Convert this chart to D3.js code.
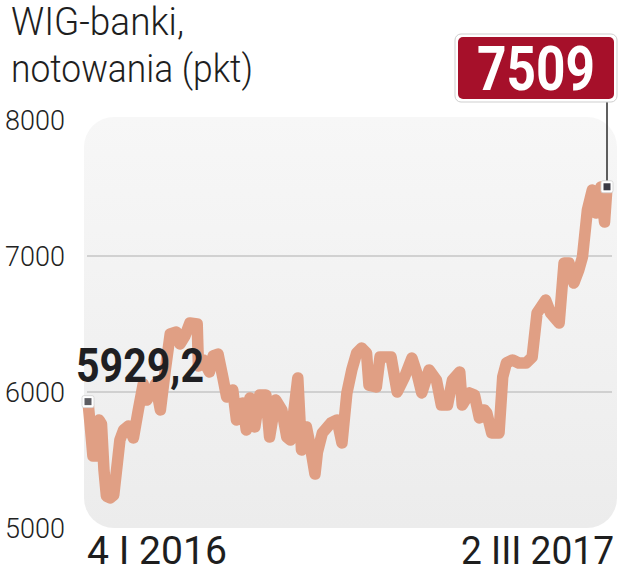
<!DOCTYPE html>
<html>
<head>
<meta charset="utf-8">
<script src="https://cdn.jsdelivr.net/npm/d3@7/dist/d3.min.js"></script>
<style>
  html, body { margin: 0; padding: 0; background: #ffffff; }
  svg { display: block; }
</style>
</head>
<body>
<svg id="chart" width="627" height="572"></svg>
<script>
// ---- Data ----
const titleLines = ["WIG-banki,", "notowania (pkt)"];
const yTicks = [5000, 6000, 7000, 8000];
const gridValues = [6000, 7000];
const xLabels = ["4 I 2016", "2 III 2017"];
const startLabel = "5929,2";
const endLabel = "7509";

const dates = [
  "2016-01-04","2016-01-06","2016-01-08","2016-01-11","2016-01-13","2016-01-15","2016-01-17","2016-01-19",
  "2016-01-22","2016-01-25","2016-01-28","2016-01-30","2016-02-02","2016-02-06","2016-02-10","2016-02-14",
  "2016-02-18","2016-02-21","2016-02-25","2016-02-28","2016-03-03","2016-03-07","2016-03-11","2016-03-16",
  "2016-03-19","2016-03-23","2016-03-27","2016-04-02","2016-04-03","2016-04-07","2016-04-12","2016-04-15",
  "2016-04-19","2016-04-23","2016-04-26","2016-05-01","2016-05-04","2016-05-09","2016-05-12","2016-05-15",
  "2016-05-19","2016-05-23","2016-05-28","2016-05-31","2016-06-05","2016-06-10","2016-06-14","2016-06-17",
  "2016-06-23","2016-06-26","2016-06-30","2016-07-04","2016-07-07","2016-07-09","2016-07-13","2016-07-20",
  "2016-07-25","2016-07-29","2016-08-02","2016-08-06","2016-08-10","2016-08-14","2016-08-18","2016-08-20",
  "2016-08-26","2016-08-29","2016-09-03","2016-09-07","2016-09-12","2016-09-18","2016-09-24","2016-09-28",
  "2016-10-02","2016-10-08","2016-10-14","2016-10-18","2016-10-23","2016-10-27","2016-11-02","2016-11-04",
  "2016-11-10","2016-11-14","2016-11-18","2016-11-22","2016-11-24","2016-11-28","2016-12-04","2016-12-07",
  "2016-12-10","2016-12-15","2016-12-20","2016-12-26","2016-12-31","2017-01-04","2017-01-11","2017-01-15",
  "2017-01-22","2017-01-26","2017-01-30","2017-02-03","2017-02-07","2017-02-10","2017-02-14","2017-02-18",
  "2017-02-21","2017-02-25","2017-02-28","2017-03-02"
];
const values = [
  5929.2,5735,5529,5529,5794,5765,5426,5235,
  5221,5243,5485,5647,5721,5750,5662,5868,
  6059,5941,6000,6059,5868,6162,6426,6441,
  6353,6412,6507,6500,6191,6235,6147,6265,
  6279,6103,5963,6015,5794,5919,5721,5956,
  5743,5978,5978,5669,5941,5868,5669,5647,
  6103,5574,5743,5559,5397,5559,5699,5772,
  5794,5625,5993,6162,6287,6324,6287,6051,
  6037,6257,6257,6257,6000,6110,6250,6140,
  5993,6162,6088,5904,5904,6088,6147,5904,
  5993,5978,5809,5868,5846,5699,5699,6110,
  6213,6235,6213,6213,6257,6581,6676,6581,
  6507,6949,6949,6801,6897,6993,7338,7485,
  7316,7507,7250,7509
];

// ---- Chart ----
const svg = d3.select("#chart");
const parse = d3.timeParse("%Y-%m-%d");
const data = dates.map((d, i) => ({ date: parse(d), value: values[i] }));

const x = d3.scaleTime()
  .domain([parse(dates[0]), parse(dates[dates.length - 1])])
  .range([88, 607]);
const y = d3.scaleLinear().domain([5000, 8000]).range([528, 120]);

const defs = svg.append("defs");
const grad = defs.append("linearGradient").attr("id", "bg")
  .attr("x1", 0).attr("y1", 0).attr("x2", 0).attr("y2", 1);
grad.append("stop").attr("offset", "0%").attr("stop-color", "#f7f7f7");
grad.append("stop").attr("offset", "100%").attr("stop-color", "#ececec");

// Title
svg.append("g").selectAll("text").data(titleLines).join("text")
  .attr("x", 11)
  .attr("y", (d, i) => 35 + i * 47)
  .attr("font-family", "Roboto, sans-serif")
  .attr("font-weight", 300)
  .attr("font-size", 38)
  .attr("fill", "#1e1e1e")
  .attr("textLength", (d, i) => i === 0 ? 173 : 242)
  .attr("lengthAdjust", "spacingAndGlyphs")
  .text(d => d);

// Plot background
svg.append("rect")
  .attr("x", 84).attr("y", 117)
  .attr("width", 533).attr("height", 411)
  .attr("rx", 30).attr("ry", 30)
  .attr("fill", "url(#bg)");

// Gridlines
svg.append("g").selectAll("line").data(gridValues).join("line")
  .attr("x1", 87).attr("x2", 612)
  .attr("y1", d => y(d)).attr("y2", d => y(d))
  .attr("stroke", "#c6c6c6").attr("stroke-width", 1.5);

// Y axis labels
const yAxis = d3.axisLeft(y).tickValues(yTicks).tickSize(0).tickPadding(0)
  .tickFormat(d3.format("d"));
const yg = svg.append("g").attr("transform", "translate(65,0)").call(yAxis);
yg.select(".domain").remove();
yg.selectAll("text")
  .attr("font-family", "Roboto, sans-serif")
  .attr("font-weight", 300)
  .attr("font-size", 27)
  .attr("fill", "#222")
  .attr("dy", "0.36em");

// X labels
svg.append("text")
  .attr("x", x(parse(dates[0])) - 1).attr("y", 564)
  .attr("text-anchor", "start")
  .attr("font-family", "Roboto, sans-serif").attr("font-size", 38).attr("fill", "#1e1e1e")
  .attr("textLength", 140).attr("lengthAdjust", "spacingAndGlyphs")
  .text(xLabels[0]);
svg.append("text")
  .attr("x", 461).attr("y", 564)
  .attr("font-family", "Roboto, sans-serif").attr("font-size", 38).attr("fill", "#1e1e1e")
  .attr("textLength", 153).attr("lengthAdjust", "spacingAndGlyphs")
  .text(xLabels[1]);

// Line
const line = d3.line().x(d => x(d.date)).y(d => y(d.value));
svg.append("path").datum(data)
  .attr("d", line)
  .attr("fill", "none")
  .attr("stroke", "#e09f84")
  .attr("stroke-width", 11.5)
  .attr("stroke-linejoin", "round")
  .attr("stroke-linecap", "round");

// Start label
svg.append("text")
  .attr("x", 76).attr("y", 382)
  .attr("font-family", "Roboto, sans-serif").attr("font-weight", 700)
  .attr("font-size", 48).attr("fill", "#1f1f22")
  .attr("textLength", 128).attr("lengthAdjust", "spacingAndGlyphs")
  .text(startLabel);

// End label box + connector
const last = data[data.length - 1];
const ex = x(last.date), ey = y(last.value);
svg.append("line")
  .attr("x1", ex).attr("x2", ex).attr("y1", 100).attr("y2", ey)
  .attr("stroke", "#2b2b2b").attr("stroke-width", 1.5);
svg.append("rect")
  .attr("x", 455).attr("y", 34).attr("width", 162).attr("height", 68)
  .attr("rx", 6).attr("fill", "#ffffff").attr("stroke", "#cfcfcf").attr("stroke-width", 1);
svg.append("rect")
  .attr("x", 458).attr("y", 37).attr("width", 156).attr("height", 62)
  .attr("rx", 5).attr("fill", "#a6102a");
svg.append("text")
  .attr("x", 477).attr("y", 90)
  .attr("font-family", "Roboto, sans-serif").attr("font-weight", 700)
  .attr("font-size", 62).attr("fill", "#ffffff")
  .attr("textLength", 118).attr("lengthAdjust", "spacingAndGlyphs")
  .text(endLabel);

// Markers
function marker(cx, cy, inner) {
  svg.append("rect").attr("x", cx - 6).attr("y", cy - 6).attr("width", 12).attr("height", 12)
    .attr("rx", 2).attr("fill", "#ffffff").attr("stroke", "#d0d0d0").attr("stroke-width", 0.8);
  svg.append("rect").attr("x", cx - 3.5).attr("y", cy - 3.5).attr("width", 7).attr("height", 7)
    .attr("fill", inner);
}
marker(x(data[0].date), y(data[0].value), "#5d5d62");
marker(ex, ey, "#3a3a44");
</script>
</body>
</html>
